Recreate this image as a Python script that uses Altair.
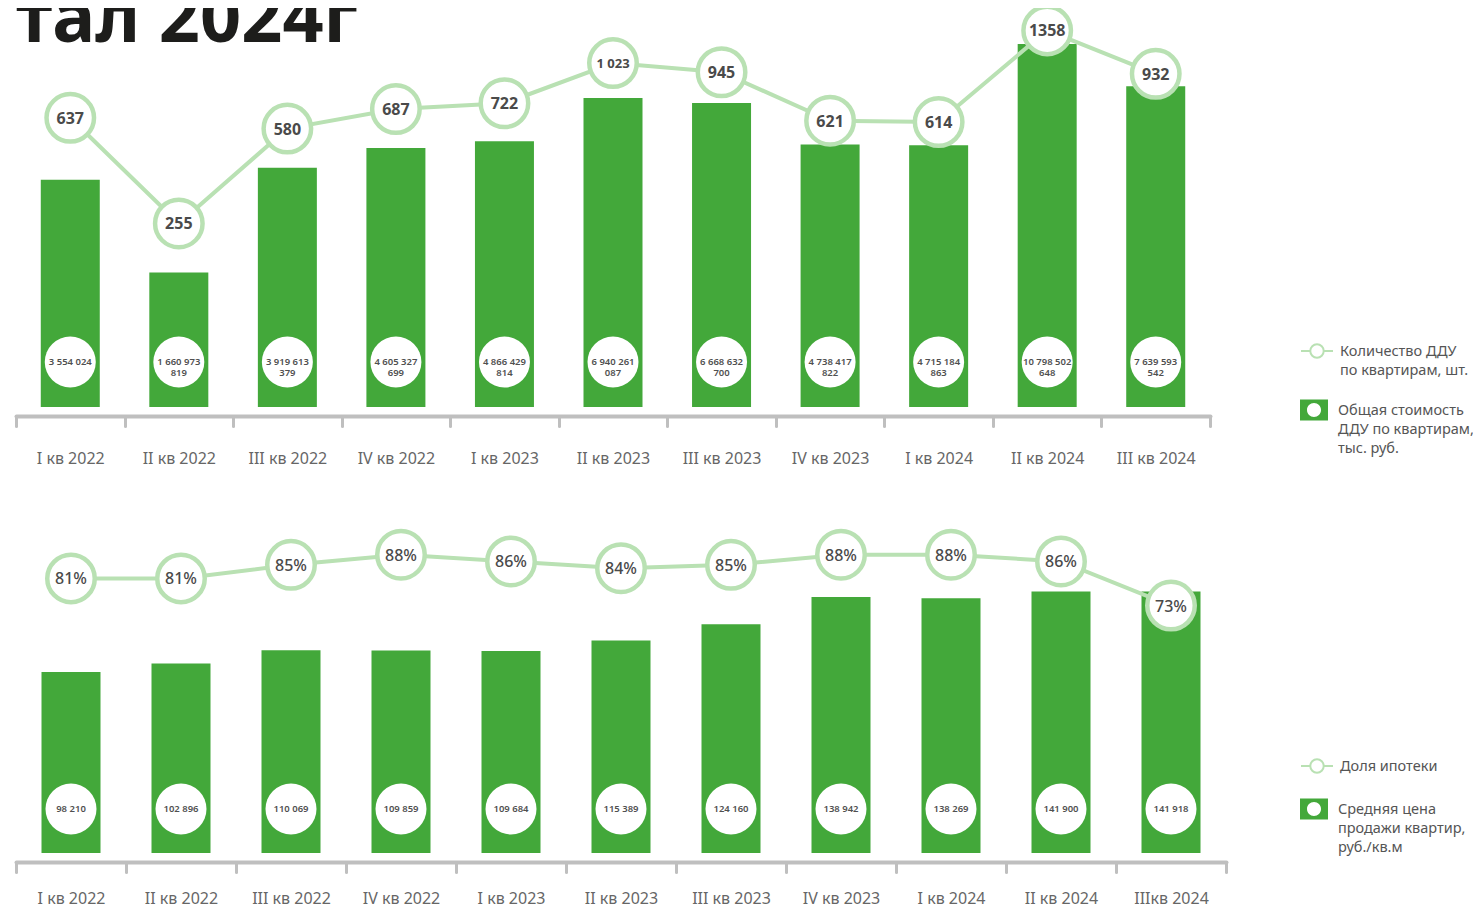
import altair as alt
import pandas as pd

# ---------------- data ----------------
quarters_top = ["I кв 2022", "II кв 2022", "III кв 2022", "IV кв 2022",
                "I кв 2023", "II кв 2023", "III кв 2023", "IV кв 2023",
                "I кв 2024", "II кв 2024", "III кв 2024"]
quarters_bottom = ["I кв 2022", "II кв 2022", "III кв 2022", "IV кв 2022",
                   "I кв 2023", "II кв 2023", "III кв 2023", "IV кв 2023",
                   "I кв 2024", "II кв 2024", "IIIкв 2024"]

ddu_count = [637, 255, 580, 687, 722, 1023, 945, 621, 614, 1358, 932]
ddu_count_labels = ["637", "255", "580", "687", "722", "1 023", "945", "621", "614", "1358", "932"]

# first label is shown truncated in the source ("3 554 024"), value estimated
ddu_cost = [3554024000, 1660973819, 3919613379, 4605327699, 4866429814, 6940261087,
            6668632700, 4738417822, 4715184863, 10798502648, 7639593542]
ddu_cost_labels = ["3 554 024", "1 660 973\n819", "3 919 613\n379", "4 605 327\n699",
                   "4 866 429\n814", "6 940 261\n087", "6 668 632\n700", "4 738 417\n822",
                   "4 715 184\n863", "10 798 502\n648", "7 639 593\n542"]

mortgage_share = [81, 81, 85, 88, 86, 84, 85, 88, 88, 86, 73]
avg_price = [98210, 102896, 110069, 109859, 109684, 115389, 124160, 138942, 138269, 141900, 141918]
avg_price_labels = ["98 210", "102 896", "110 069", "109 859", "109 684", "115 389",
                    "124 160", "138 942", "138 269", "141 900", "141 918"]

top_line_name = "Количество ДДУ|по квартирам, шт."
top_bar_name = "Общая стоимость|ДДУ по квартирам,|тыс. руб."
bot_line_name = "Доля ипотеки"
bot_bar_name = "Средняя цена|продажи квартир,|руб./кв.м"

title_text = "тал 2024г"

# ---------------- style ----------------
FONT = "Noto Sans"
GREEN = "#43a83a"
LIGHT = "#b9e1b3"
DARK = "#4a4a4a"
AXIS_GRAY = "#bfbfbf"
LABEL_GRAY = "#666666"

W1, H1 = 1194, 387
W2, H2 = 1210, 339
BAR_W = 59
LEG_X = 1284
LEG_FS = 14.5


def line_symbol(dy_px, unit=16.0):
    d = dy_px / unit
    return (f"M-1,{d}H-0.42M-0.42,{d}A0.42,0.42 0 1,1 0.42,{d}"
            f"A0.42,0.42 0 1,1 -0.42,{d}M0.42,{d}H1")


def bar_symbol(dy_px, unit=14.0):
    d = dy_px / unit
    return (f"M-1,{d - 0.75}H1V{d + 0.75}H-1Z"
            f"M0.5,{d}A0.5,0.5 0 1,0 -0.5,{d}A0.5,0.5 0 1,0 0.5,{d}Z")


def x_enc(order, label_pad):
    return alt.X(
        "quarter:N", sort=order,
        scale=alt.Scale(paddingInner=0, paddingOuter=0),
        axis=alt.Axis(title=None, labelAngle=0, labelFont=FONT, labelFontSize=16,
                      labelColor=LABEL_GRAY, labelPadding=label_pad, domainColor=AXIS_GRAY,
                      domainWidth=4, tickColor=AXIS_GRAY, tickWidth=3, tickSize=10,
                      tickBand="extent", offset=9, domainCap="round", tickCap="round"),
    )


def legend_line(x, y, dy):
    return alt.Legend(title=None, orient="none", legendX=x, legendY=y,
                      symbolType=line_symbol(dy), symbolSize=1024, symbolStrokeWidth=2,
                      symbolFillColor="white", labelExpr="split(datum.label, '|')",
                      labelFont=FONT, labelFontSize=LEG_FS, labelColor="#555555",
                      labelLimit=400, labelBaseline="top", labelOffset=6, padding=0)


def legend_bar(x, y, dy):
    return alt.Legend(title=None, orient="none", legendX=x, legendY=y,
                      symbolType=bar_symbol(dy), symbolSize=784, symbolStrokeWidth=0,
                      labelExpr="split(datum.label, '|')",
                      labelFont=FONT, labelFontSize=LEG_FS, labelColor="#555555",
                      labelLimit=400, labelBaseline="top", labelOffset=10, padding=0)


# ---------------- top panel ----------------
top_df = pd.DataFrame({
    "quarter": quarters_top,
    "count": ddu_count,
    "count_label": ddu_count_labels,
    "cost": ddu_cost,
    "cost_label": ddu_cost_labels,
    "line_series": [top_line_name] * len(quarters_top),
    "bar_series": [top_bar_name] * len(quarters_top),
})

tbase = alt.Chart(top_df).encode(x=x_enc(quarters_top, 24))
t_y_bar = alt.Y("cost:Q", stack=False,
                scale=alt.Scale(type="log", domain=[5.52e8, 1.315e10], nice=False), axis=None)
t_y_line = alt.Y("count:Q", scale=alt.Scale(type="log", domain=[52, 1486], nice=False), axis=None)

t_bars = tbase.mark_bar(size=BAR_W).encode(
    y=t_y_bar,
    y2=alt.value("height"),
    fill=alt.Fill("bar_series:N", scale=alt.Scale(domain=[top_bar_name], range=[GREEN]),
                  legend=legend_bar(LEG_X, 370, 6)),
)
t_plate = tbase.mark_circle(color="white", opacity=1, size=2601, yOffset=-45).encode(
    y=alt.value("height"))
t_plate_text = tbase.mark_text(font=FONT, fontSize=9.5, fontWeight=600, color="#505050",
                               lineBreak="\n", lineHeight=11, yOffset=-45).encode(
    y=alt.value("height"), text="cost_label:N")
t_line = tbase.mark_line(strokeWidth=4).encode(
    y=t_y_line,
    stroke=alt.Stroke("line_series:N", scale=alt.Scale(domain=[top_line_name], range=[LIGHT]),
                      legend=legend_line(LEG_X, 308, 6)),
)
t_rings = tbase.mark_circle(color="white", stroke=LIGHT, strokeWidth=4.5, opacity=1, size=2256).encode(
    y=t_y_line)
t_ring_text = tbase.mark_text(font=FONT, fontWeight="bold", color=DARK, dy=1).encode(
    y=t_y_line, text="count_label:N",
    size=alt.condition("length(datum.count_label) > 4", alt.value(13), alt.value(16)))

top_panel = alt.layer(t_bars, t_plate, t_plate_text, t_line, t_rings, t_ring_text).resolve_scale(
    y="independent").properties(
    width=W1, height=H1,
    title=alt.Title(text=title_text, anchor="start", frame="group", offset=-59,
                    fontSize=72, font=FONT, fontWeight="bold", color="#1d1d1b"),
)

# ---------------- bottom panel ----------------
bot_df = pd.DataFrame({
    "quarter": quarters_bottom,
    "share": mortgage_share,
    "price": avg_price,
    "price_label": avg_price_labels,
    "line_series": [bot_line_name] * len(quarters_bottom),
    "bar_series": [bot_bar_name] * len(quarters_bottom),
})

bbase = alt.Chart(bot_df).encode(x=x_enc(quarters_bottom, 18))
b_y_bar = alt.Y("price:Q", stack=False, scale=alt.Scale(domain=[0, 184000], nice=False), axis=None)
b_y_line = alt.Y("share:Q", scale=alt.Scale(domain=[0, 100], nice=False), axis=None)

b_bars = bbase.mark_bar(size=BAR_W).encode(
    y=b_y_bar,
    fill=alt.Fill("bar_series:N", scale=alt.Scale(domain=[bot_bar_name], range=[GREEN]),
                  legend=legend_bar(LEG_X, 275, 6)),
)
b_plate = bbase.mark_circle(color="white", opacity=1, size=2601, yOffset=-44).encode(
    y=alt.value("height"))
b_plate_text = bbase.mark_text(font=FONT, fontSize=9.5, fontWeight=600, color="#505050",
                               yOffset=-44).encode(y=alt.value("height"), text="price_label:N")
b_line = bbase.mark_line(strokeWidth=4).encode(
    y=b_y_line,
    stroke=alt.Stroke("line_series:N", scale=alt.Scale(domain=[bot_line_name], range=[LIGHT]),
                      legend=legend_line(LEG_X, 229, 6)),
)
b_rings = bbase.mark_circle(color="white", stroke=LIGHT, strokeWidth=4.5, opacity=1, size=2256).encode(
    y=b_y_line)
b_ring_text = bbase.transform_calculate(share_label="datum.share + '%'").mark_text(
    font=FONT, fontSize=16, fontWeight=500, color=DARK, dy=1).encode(
    y=b_y_line, text="share_label:N")

bottom_panel = alt.layer(b_bars, b_plate, b_plate_text, b_line, b_rings, b_ring_text).resolve_scale(
    y="independent").properties(width=W2, height=H2)

chart = alt.vconcat(top_panel, bottom_panel, spacing=48).resolve_scale(
    fill="independent", stroke="independent", x="independent").resolve_legend(
    fill="independent", stroke="independent").properties(
    padding={"left": 6, "top": -25, "right": -1, "bottom": 0},
    background="white",
).configure(
    font=FONT,
    view={"stroke": "transparent", "strokeWidth": 0},
    style={"guide-label": {"lineHeight": 19, "font": FONT}},
)

chart.save("out.html", embed_options={"renderer": "svg", "actions": False})
